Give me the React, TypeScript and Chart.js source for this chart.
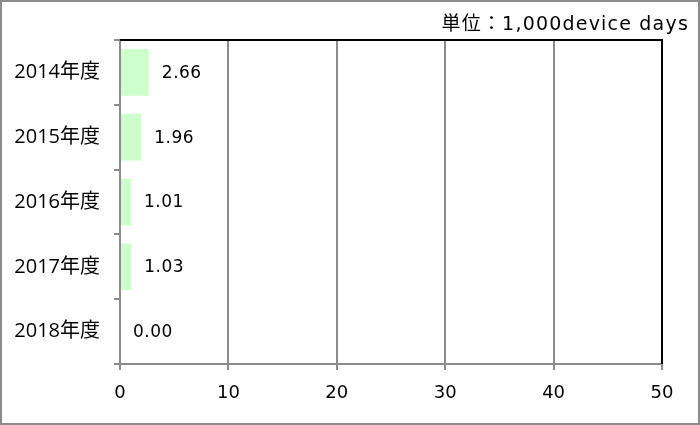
import React, { useEffect, useRef } from "react";
import { Chart, registerables } from "chart.js";

Chart.register(...registerables);

const categories = ["2014年度", "2015年度", "2016年度", "2017年度", "2018年度"];
const values = [2.66, 1.96, 1.01, 1.03, 0.0];
const xTicks = [0, 10, 20, 30, 40, 50];
const unitLabel = "単位：1,000device days";

const NUM_FONT = "'DejaVu Sans', 'Noto Sans CJK JP', sans-serif";
const CJK_FONT = "'Open Sans', 'Noto Sans CJK JP', sans-serif";
const UNIT_FONT = "'DejaVu Sans', 'Noto Sans CJK JP', sans-serif";

const decorPlugin = {
  id: "decor",
  beforeDraw(chart: any) {
    const ctx = chart.ctx;
    ctx.save();
    ctx.fillStyle = "#ffffff";
    ctx.fillRect(0, 0, chart.width, chart.height);
    ctx.restore();
  },
  afterDraw(chart: any) {
    const ctx = chart.ctx;
    const a = chart.chartArea;
    ctx.save();
    ctx.strokeStyle = "#000000";
    ctx.lineWidth = 2;
    ctx.beginPath();
    ctx.moveTo(a.left, a.top);
    ctx.lineTo(a.right, a.top);
    ctx.lineTo(a.right, a.bottom);
    ctx.stroke();
    ctx.strokeStyle = "#8c8c8c";
    ctx.lineWidth = 2;
    ctx.strokeRect(1, 1, chart.width - 2, chart.height - 2);
    ctx.fillStyle = "#000000";
    ctx.font = `19px ${UNIT_FONT}`;
    try {
      (ctx as any).letterSpacing = "1.2px";
    } catch (e) {}
    ctx.textAlign = "right";
    ctx.textBaseline = "alphabetic";
    ctx.fillText(unitLabel, a.right + 27, 30);
    try {
      (ctx as any).letterSpacing = "0.5px";
    } catch (e) {}
    const meta = chart.getDatasetMeta(0);
    ctx.font = `17px ${NUM_FONT}`;
    ctx.textAlign = "left";
    ctx.textBaseline = "middle";
    meta.data.forEach((bar: any, i: number) => {
      const v = values[i];
      ctx.fillText(v.toFixed(2), bar.x + 13, bar.y + 1);
    });
    ctx.restore();
  },
};

export default function App() {
  const ref = useRef<HTMLCanvasElement | null>(null);
  useEffect(() => {
    if (!ref.current) return;
    const chart = new Chart(ref.current, {
      type: "bar",
      data: {
        labels: categories,
        datasets: [
          {
            data: values,
            backgroundColor: "#ccffcc",
            borderWidth: 0,
            categoryPercentage: 0.72,
            barPercentage: 1,
          },
        ],
      },
      options: {
        indexAxis: "y",
        animation: false,
        responsive: false,
        devicePixelRatio: 1,
        layout: { padding: { top: 40, right: 38, bottom: 0, left: 0 } },
        plugins: {
          legend: { display: false },
          tooltip: { enabled: false },
          title: { display: false },
        },
        scales: {
          x: {
            min: 0,
            max: 50,
            afterBuildTicks(scale: any) {
              scale.ticks = xTicks.map((v) => ({ value: v }));
            },
            afterFit(scale: any) {
              scale.height = 61;
            },
            grid: {
              color: "#8c8c8c",
              lineWidth: 2,
              tickLength: 6,
              drawOnChartArea: true,
            },
            border: { color: "#8c8c8c", width: 2 },
            ticks: {
              color: "#000000",
              font: { family: NUM_FONT, size: 18 },
              padding: 13,
              maxRotation: 0,
            },
          },
          y: {
            afterFit(scale: any) {
              scale.width = 120;
            },
            offset: true,
            grid: {
              offset: true,
              color: "#8c8c8c",
              lineWidth: 2,
              tickLength: 6,
              drawOnChartArea: false,
            },
            border: { color: "#8c8c8c", width: 2 },
            ticks: {
              color: "#000000",
              font: { family: CJK_FONT, size: 20 },
              padding: 14,
            },
          },
        },
      },
      plugins: [decorPlugin],
    });
    return () => chart.destroy();
  }, []);
  return (
    <div style={{ position: "fixed", left: 0, top: 0, width: 700, height: 425 }}>
      <canvas ref={ref} width={700} height={425} style={{ display: "block" }} />
    </div>
  );
}
